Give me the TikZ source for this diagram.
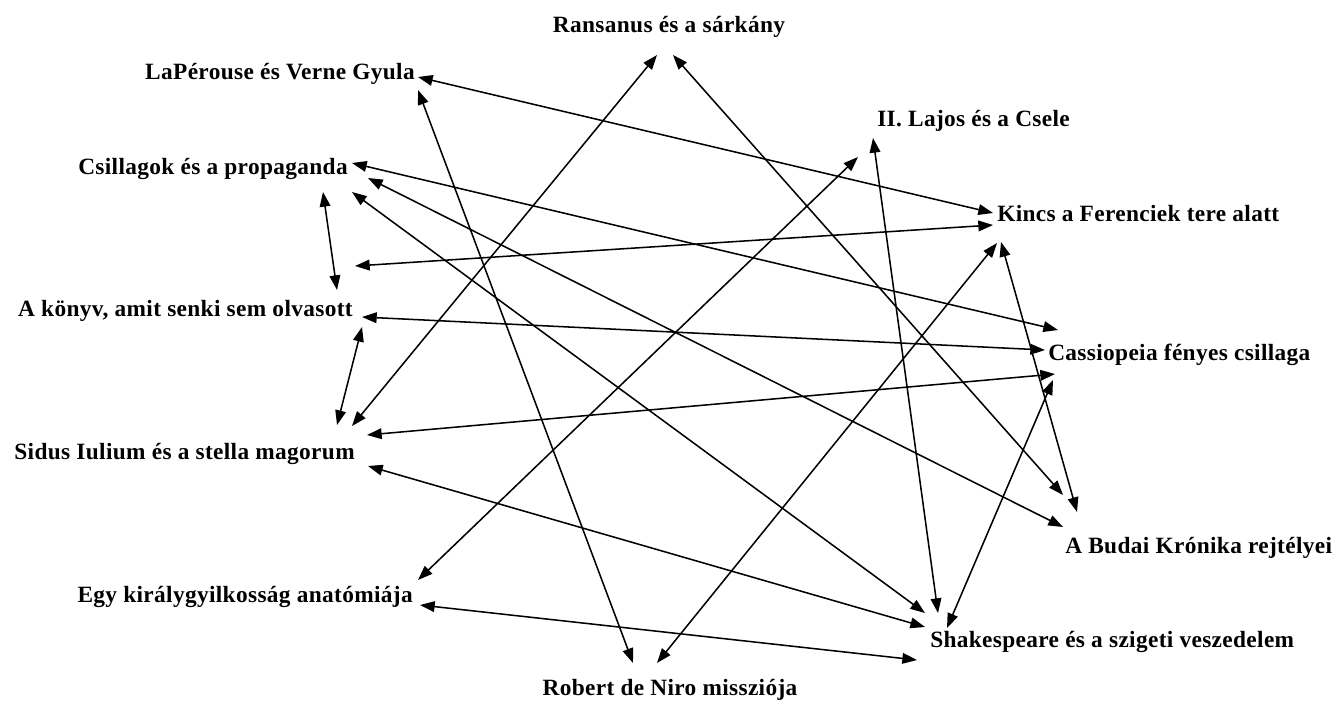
\documentclass[tikz,border=0pt]{standalone}
\usepackage{fontspec}
\setmainfont[LetterSpace=1.5]{Liberation Serif}
\usetikzlibrary{arrows.meta}
\begin{document}
\begin{tikzpicture}[x=0.75pt,y=-0.75pt,
  lbl/.style={inner sep=0pt,font=\fontsize{17.5}{19}\selectfont\bfseries},
  tip/.tip={Triangle[length=11pt,width=8pt]},
  link/.style={line width=1.15pt,tip-tip}]
\useasboundingbox (0,0) rectangle (1333,700);
% labels
\node[lbl,anchor=base] (ran) at (669,32) {Ransanus és a sárkány};
\node[lbl,anchor=base east] (lap) at (415,79) {LaPérouse és Verne Gyula};
\node[lbl,anchor=base west] (laj) at (877,126) {II. Lajos és a Csele};
\node[lbl,anchor=base east] (csi) at (348,174) {Csillagok és a propaganda};
\node[lbl,anchor=base west] (kin) at (997,221) {Kincs a Ferenciek tere alatt};
\node[lbl,anchor=base east] (kon) at (353,316) {A könyv, amit senki sem olvasott};
\node[lbl,anchor=base west] (cas) at (1048,360) {Cassiopeia fényes csillaga};
\node[lbl,anchor=base east] (sid) at (355,459) {Sidus Iulium és a stella magorum};
\node[lbl,anchor=base west] (bud) at (1065,553) {A Budai Krónika rejtélyei};
\node[lbl,anchor=base east] (egy) at (413,602) {Egy királygyilkosság anatómiája};
\node[lbl,anchor=base west] (sha) at (930,647) {Shakespeare és a szigeti veszedelem};
\node[lbl,anchor=base] (rob) at (670,695) {Robert de Niro missziója};
% connector ends
\coordinate (ran1) at (657,55);
\coordinate (ran2) at (673,55);
\coordinate (lap1) at (418,77);
\coordinate (lap2) at (418,90);
\coordinate (laj1) at (858,157);
\coordinate (laj2) at (873,138);
\coordinate (csi1) at (352,163);
\coordinate (csi2) at (368,178);
\coordinate (csi3) at (352,192);
\coordinate (csi4) at (323,192);
\coordinate (kin1) at (993,213);
\coordinate (kin2) at (993,225);
\coordinate (kin3) at (997,243);
\coordinate (kin4) at (1001,242);
\coordinate (kon1) at (337,290);
\coordinate (kon2) at (355,266);
\coordinate (kon3) at (362,317);
\coordinate (kon4) at (362,327);
\coordinate (cas1) at (1058,330);
\coordinate (cas2) at (1045,350);
\coordinate (cas3) at (1055,374);
\coordinate (cas4) at (1053,380);
\coordinate (sid1) at (337,425);
\coordinate (sid2) at (352,426);
\coordinate (sid3) at (367,435);
\coordinate (sid4) at (368,466);
\coordinate (bud1) at (1063,495);
\coordinate (bud2) at (1077,512);
\coordinate (bud3) at (1063,527);
\coordinate (egy1) at (418,580);
\coordinate (egy2) at (420,605);
\coordinate (sha1) at (925,613);
\coordinate (sha2) at (938,613);
\coordinate (sha3) at (947,628);
\coordinate (sha4) at (925,627);
\coordinate (sha5) at (917,660);
\coordinate (rob1) at (633,663);
\coordinate (rob2) at (657,663);
% connectors
\draw[link] (ran1) -- (sid2);
\draw[link] (ran2) -- (bud1);
\draw[link] (lap1) -- (kin1);
\draw[link] (lap2) -- (rob1);
\draw[link] (laj1) -- (egy1);
\draw[link] (laj2) -- (sha2);
\draw[link] (csi1) -- (cas1);
\draw[link] (csi2) -- (bud3);
\draw[link] (csi3) -- (sha1);
\draw[link] (csi4) -- (kon1);
\draw[link] (kon2) -- (kin2);
\draw[link] (kin3) -- (rob2);
\draw[link] (kin4) -- (bud2);
\draw[link] (kon3) -- (cas2);
\draw[link] (kon4) -- (sid1);
\draw[link] (sid3) -- (cas3);
\draw[link] (cas4) -- (sha3);
\draw[link] (sid4) -- (sha4);
\draw[link] (egy2) -- (sha5);
\end{tikzpicture}
\end{document}
